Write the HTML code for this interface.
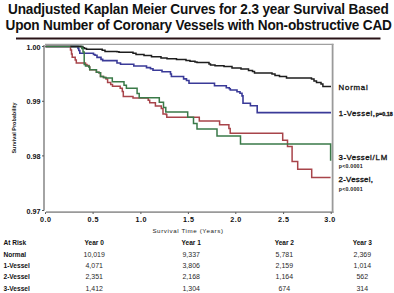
<!DOCTYPE html>
<html><head><meta charset="utf-8"><style>
html,body{margin:0;padding:0;background:#fff;width:394px;height:293px;overflow:hidden}
svg{position:absolute;left:0;top:0}
text{font-family:"Liberation Sans",sans-serif}
.tt{font-size:13.6px;font-weight:bold;fill:#111;letter-spacing:-0.155px}
.tk{font-size:7.2px;font-weight:bold;fill:#111}
.ax{font-size:6.2px;fill:#1a1a1a}
.ay{font-size:6.2px;font-weight:bold;fill:#1a1a1a}
.lg{font-size:7.8px;fill:#1a1a1a;stroke:#1a1a1a;stroke-width:0.35px}
.pv{font-size:5.3px;font-weight:bold;fill:#222}
.tb{font-size:7.6px;fill:#2a2a2a}
.tbb{font-size:7.3px;font-weight:bold;fill:#111}
</style></head><body>
<svg width="394" height="293" viewBox="0 0 394 293">
<text x="8" y="0" transform="translate(0,14.2) scale(1,1.04)" class="tt">Unadjusted Kaplan Meier Curves for 2.3 year Survival Based</text>
<text x="5.5" y="0" transform="translate(0,29.8) scale(1,1.04)" class="tt" style="letter-spacing:-0.18px">Upon Number of Coronary Vessels with Non-obstructive CAD</text>
<rect x="16" y="37.5" width="364.5" height="2" fill="#2a1418"/>
<line x1="44" y1="45" x2="44" y2="210.6" stroke="#9a9a9a" stroke-width="1.8"/>
<line x1="332.6" y1="43.8" x2="332.6" y2="213" stroke="#9a9a9a" stroke-width="1.8"/>
<line x1="45" y1="44.4" x2="333.5" y2="44.4" stroke="#a0a0a0" stroke-width="1.3"/>
<line x1="46" y1="212.2" x2="333.5" y2="212.2" stroke="#9a9a9a" stroke-width="1.7"/>
<line x1="45.5" y1="212.2" x2="45.5" y2="214" stroke="#555" stroke-width="1"/>
<text x="45.75" y="222.2" class="tk" letter-spacing="0.5" text-anchor="middle">0.0</text>
<line x1="93.1" y1="212.2" x2="93.1" y2="214" stroke="#555" stroke-width="1"/>
<text x="93.35" y="222.2" class="tk" letter-spacing="0.5" text-anchor="middle">0.5</text>
<line x1="140.9" y1="212.2" x2="140.9" y2="214" stroke="#555" stroke-width="1"/>
<text x="141.15" y="222.2" class="tk" letter-spacing="0.5" text-anchor="middle">1.0</text>
<line x1="188.4" y1="212.2" x2="188.4" y2="214" stroke="#555" stroke-width="1"/>
<text x="188.65" y="222.2" class="tk" letter-spacing="0.5" text-anchor="middle">1.5</text>
<line x1="235.8" y1="212.2" x2="235.8" y2="214" stroke="#555" stroke-width="1"/>
<text x="236.05" y="222.2" class="tk" letter-spacing="0.5" text-anchor="middle">2.0</text>
<line x1="283.6" y1="212.2" x2="283.6" y2="214" stroke="#555" stroke-width="1"/>
<text x="283.85" y="222.2" class="tk" letter-spacing="0.5" text-anchor="middle">2.5</text>
<line x1="331.2" y1="212.2" x2="331.2" y2="214" stroke="#555" stroke-width="1"/>
<text x="330" y="222.2" class="tk" letter-spacing="0.5" text-anchor="middle">3.0</text>
<line x1="42" y1="46.5" x2="44" y2="46.5" stroke="#555" stroke-width="1"/>
<text x="40.5" y="49.6" class="tk" text-anchor="end">1.00</text>
<line x1="42" y1="101.3" x2="44" y2="101.3" stroke="#555" stroke-width="1"/>
<text x="40.5" y="104.39999999999999" class="tk" text-anchor="end">0.99</text>
<line x1="42" y1="155.9" x2="44" y2="155.9" stroke="#555" stroke-width="1"/>
<text x="40.5" y="159.0" class="tk" text-anchor="end">0.98</text>
<line x1="42" y1="210.5" x2="44" y2="210.5" stroke="#555" stroke-width="1"/>
<text x="40.5" y="213.6" class="tk" text-anchor="end">0.97</text>
<path d="M45.5,46.5 H82.9 V47.8 H84.5 V48.5 H86.5 V49.2 H102.2 V50.3 H105 V51.4 H117 V51.8 H119 V52.2 H133 V53.3 H136 V54.5 H144 V55.5 H151.5 V56.8 H161 V58 H167 V58.8 H176.5 V59.5 H186 V60.5 H190 V61.2 H195 V62 H197 V62.6 H209 V64 H210.5 V65 H215 V65.8 H224 V66.6 H232 V67.9 H241 V68.9 H248.5 V70.4 H252.5 V71.5 H254.5 V72.9 H272 V73.9 H275 V75.5 H279.5 V76.5 H286.5 V77.9 H311.5 V79.1 H314 V80.9 H316.5 V82.4 H321 V83.9 H322.9 V86.5 H331" fill="none" stroke="#1e1e1e" stroke-width="1.5"/>
<path d="M45.5,46.5 H78 V48.5 H78.8 V50.5 H79.8 V53.2 H93.5 V54.5 H95 V55.3 H97 V57.4 H101 V59.4 H102.7 V60.6 H117 V63 H120.5 V64.3 H133.8 V66 H146.5 V67.6 H150.5 V68.8 H153 V70.2 H162 V71.7 H170.5 V74 H171.4 V76.5 H183.6 V78.9 H186.5 V80.5 H189 V83.2 H214.5 V85.7 H226.3 V87.7 H229.3 V88.7 H230.3 V90 H237 V91.8 H240 V93.3 H242 V95.9 H243 V103.2 H250.4 V105.8 H257.2 V112.6 H331" fill="none" stroke="#3a3a98" stroke-width="1.6"/>
<path d="M45.5,46.5 H70.5 V50 H71.5 V54 H72.2 V57.3 H75.2 V59.9 H76.3 V63 H85.5 V64.5 H87 V65.5 H89 V67 H89.7 V69.8 H96.4 V72.3 H98.9 V72.8 H100.5 V76.4 H103.5 V77.4 H106 V79 H107.6 V82.5 H110.7 V84.6 H112.5 V86.3 H120.2 V88.3 H122.3 V91.4 H123.3 V96.5 H133 V98 H148.2 V100.2 H149.7 V102.8 H155.4 V105.9 H161.3 V108.4 H163 V114 H166.1 V114.6 H166.8 V117.2 H199.3 V121.1 H219.6 V124.8 H228.9 V128.4 H230.2 V133.3 H282.7 V140.3 H287.5 V146.5 H292.1 V161.5 H297.7 V169.2 H311.7 V177.5 H330.6" fill="none" stroke="#a8444a" stroke-width="1.5"/>
<path d="M45.5,46.5 H81.8 V48.5 H83 V52 H84.2 V64.6 H85.5 V66 H89 V67 H89.7 V69.8 H96.4 V72.3 H99 V72.8 H100.5 V76.4 H103.5 V77.4 H105.6 V78 H112.3 V81.8 H124 V85.2 H126.4 V88.3 H137.1 V93.4 H139.2 V97.7 H159.3 V102.3 H163.5 V107.4 H165.8 V112.1 H187.7 V117.3 H193.5 V123.4 H197 V129 H217 V136 H240.5 V143.9 H330.6 V160.7" fill="none" stroke="#3a7a48" stroke-width="1.5"/>
<line x1="70.5" y1="46.5" x2="81.6" y2="46.5" stroke="#1e1e1e" stroke-width="1.5"/>
<text x="0" y="0" class="ay" transform="translate(15.6,128) rotate(-90) scale(0.885,1)" text-anchor="middle">Survival Probability</text>
<text x="152.4" y="232.8" class="ax" letter-spacing="0.6">Survival Time (Years)</text>
<text x="338.6" y="90.1" class="lg" letter-spacing="0.8">Normal</text>
<text x="338.8" y="116.1" class="lg" letter-spacing="0.5">1-Vessel,<tspan class="pv" dx="0.3" letter-spacing="0.1">p=0.18</tspan></text>
<text x="338.6" y="159.7" class="lg" letter-spacing="0.45">3-Vessel<tspan dx="0.4" letter-spacing="0.9">/LM</tspan></text>
<text x="338.8" y="168.1" class="pv" letter-spacing="0.18">p&lt;0.0001</text>
<text x="338.6" y="181.7" class="lg" letter-spacing="0.28">2-Vessel,</text>
<text x="338.8" y="190.7" class="pv" letter-spacing="0.18">p&lt;0.0001</text>
<text transform="translate(3.5,245.4) scale(0.9,1)" class="tbb">At Risk</text>
<text transform="translate(3.5,256.8) scale(0.9,1)" class="tbb">Normal</text>
<text transform="translate(3.5,267.9) scale(0.9,1)" class="tbb">1-Vessel</text>
<text transform="translate(3.5,279.2) scale(0.9,1)" class="tbb">2-Vessel</text>
<text transform="translate(3.5,290.5) scale(0.9,1)" class="tbb">3-Vessel</text>
<text transform="translate(94.2,245.4) scale(0.9,1)" class="tbb" text-anchor="middle">Year 0</text>
<text transform="translate(191.2,245.4) scale(0.9,1)" class="tbb" text-anchor="middle">Year 1</text>
<text transform="translate(284.3,245.4) scale(0.9,1)" class="tbb" text-anchor="middle">Year 2</text>
<text transform="translate(362.3,245.4) scale(0.9,1)" class="tbb" text-anchor="middle">Year 3</text>
<text transform="translate(94.2,256.8) scale(0.92,1)" class="tb" text-anchor="middle">10,019</text>
<text transform="translate(191.2,256.8) scale(0.92,1)" class="tb" text-anchor="middle">9,337</text>
<text transform="translate(284.3,256.8) scale(0.92,1)" class="tb" text-anchor="middle">5,781</text>
<text transform="translate(362.3,256.8) scale(0.92,1)" class="tb" text-anchor="middle">2,369</text>
<text transform="translate(94.2,267.9) scale(0.92,1)" class="tb" text-anchor="middle">4,071</text>
<text transform="translate(191.2,267.9) scale(0.92,1)" class="tb" text-anchor="middle">3,806</text>
<text transform="translate(284.3,267.9) scale(0.92,1)" class="tb" text-anchor="middle">2,159</text>
<text transform="translate(362.3,267.9) scale(0.92,1)" class="tb" text-anchor="middle">1,014</text>
<text transform="translate(94.2,279.2) scale(0.92,1)" class="tb" text-anchor="middle">2,351</text>
<text transform="translate(191.2,279.2) scale(0.92,1)" class="tb" text-anchor="middle">2,168</text>
<text transform="translate(284.3,279.2) scale(0.92,1)" class="tb" text-anchor="middle">1,164</text>
<text transform="translate(362.3,279.2) scale(0.92,1)" class="tb" text-anchor="middle">562</text>
<text transform="translate(94.2,290.5) scale(0.92,1)" class="tb" text-anchor="middle">1,412</text>
<text transform="translate(191.2,290.5) scale(0.92,1)" class="tb" text-anchor="middle">1,304</text>
<text transform="translate(284.3,290.5) scale(0.92,1)" class="tb" text-anchor="middle">674</text>
<text transform="translate(362.3,290.5) scale(0.92,1)" class="tb" text-anchor="middle">314</text>
</svg></body></html>
